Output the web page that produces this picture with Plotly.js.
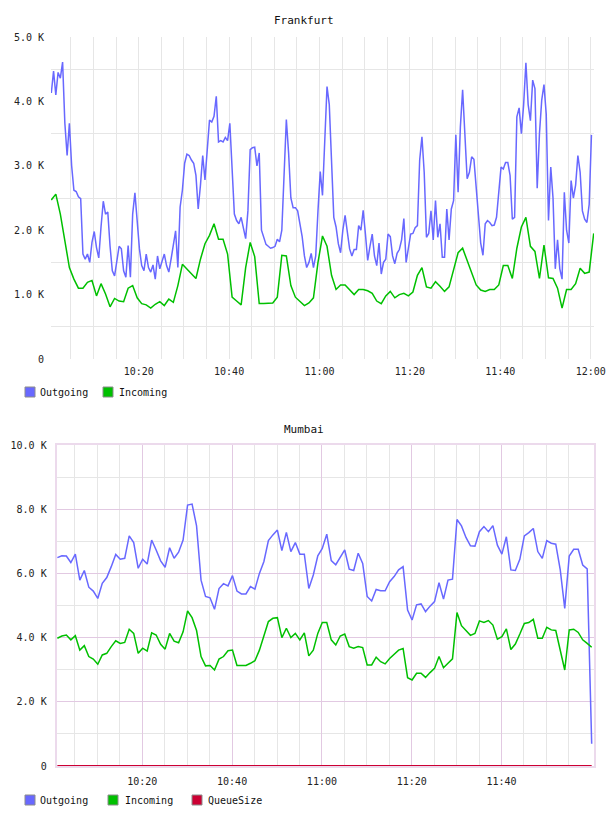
<!DOCTYPE html>
<html>
<head>
<meta charset="utf-8">
<script src="https://cdn.plot.ly/plotly-3.0.1.min.js"></script>
<style>
  html, body { margin: 0; padding: 0; background: #ffffff; }
  #chart { width: 608px; height: 816px; }
</style>
</head>
<body>
<div id="chart"></div>
<script>
// ---- Frankfurt: traffic sampled every 30 s (outgoing) and every 60 s (incoming)
const frankfurtOutgoing = [
  4130, 4470, 4100, 4450, 4360, 4610, 3660, 3160, 3660, 3000,
  2620, 2600, 2520, 2490, 1630, 1550, 1630, 1500, 1810, 1980,
  1730, 1570, 2050, 2450, 2250, 2280, 1750, 1370, 1290, 1520,
  1750, 1710, 1370, 1270, 1760, 1270, 2250, 2580, 2070, 1710,
  1450, 1370, 1630, 1420, 1350, 1460, 1240, 1600, 1400, 1500,
  1630, 1450, 1350, 1550, 1790, 1990, 1420, 2360, 2620, 3040,
  3180, 3160, 3090, 3040, 2850, 2330, 2700, 3160, 2780, 3300,
  3710, 3680, 3770, 4080, 3370, 3390, 3370, 3440, 3390, 3660,
  2880, 2250, 2150, 2100, 2200, 2050, 1870, 2300, 3250, 3280,
  3290, 3000, 3200, 2000, 1900, 1780, 1750, 1720, 1730, 1750,
  1860, 1820, 2000, 2900, 3720, 3200, 2500, 2350, 2350, 2300,
  2080, 1900, 1600, 1420, 1500, 1640, 1420, 1600, 2300, 2910,
  2540, 3400, 4230, 3950, 3100, 2200, 2050, 1790, 1650, 2000,
  2230, 1950, 1710, 1600, 1700, 1700, 2070, 2000, 2310, 1940,
  1530, 1750, 1940, 1600, 1450, 1800, 1320, 1500, 1550, 1940,
  1900, 1600, 1480, 1640, 1700, 1850, 2180, 1500, 1750, 1940,
  1950, 2040, 2070, 3090, 3450, 2900, 1890, 1950, 2300, 1850,
  2460, 1890, 2100, 1580, 1580, 2330, 1850, 2330, 2460, 3480,
  2590, 3600, 4180, 3500, 2800, 2900, 3140, 3100, 2650, 2300,
  1800, 1610, 2100, 2150, 2120, 2070, 2080, 2200, 2550, 2980,
  2950, 3050, 3050, 2850, 2170, 2200, 3760, 3900, 3500, 3950,
  4600, 3950, 3700, 4330, 4200, 2650, 3500, 4020, 4260, 3800,
  2150, 2980, 2500, 1400, 1850, 1400, 1240, 2590, 2000, 1800,
  2770, 2500, 2700, 3160, 2900, 2300, 2170, 2120, 2400, 3480
];
const frankfurtIncoming = [
  2470, 2560, 2250, 1850, 1420, 1240, 1100, 1100, 1190, 1220,
   980, 1170, 1010,  810,  940,  900,  890, 1100, 1140,  950,
   860,  840,  790,  850,  890,  830,  930,  880, 1140, 1470,
  1400, 1330, 1250, 1550, 1790, 1920, 2100, 1860, 1860, 1630,
   960,  900,  840, 1420, 1810, 1590,  860,  860,  860,  870,
   960, 1610, 1600, 1140,  960,  900,  830,  870,  950, 1500,
  1910, 1750, 1300, 1080, 1150, 1150, 1080, 1000, 1080, 1080,
  1060, 1020,  900,  860,  980, 1050,  950, 1000, 1020,  980,
  1040, 1300, 1420, 1120, 1100, 1200, 1130, 1050, 1120, 1400,
  1650, 1720, 1520, 1330, 1150, 1070, 1050, 1080, 1080, 1150,
  1450, 1450, 1250, 1720, 2050, 2200, 1750, 1670, 1250, 1770,
  1260, 1250, 1100,  790, 1080, 1080, 1170, 1410, 1330, 1350,
  1950
];

// ---- Mumbai: one sample per minute
const mumbaiOutgoing = [
  6490, 6550, 6540, 6340, 6600, 5790, 6090, 5570, 5450, 5220,
  5690, 5870, 6210, 6590, 6440, 6470, 7170, 6960, 6160, 6440,
  6290, 7040, 6730, 6390, 6190, 6800, 6470, 6660, 7040, 8130,
  8160, 7480, 5790, 5280, 5240, 4880, 5530, 5680, 5610, 5930,
  5450, 5360, 5360, 5590, 5510, 6000, 6370, 7020, 7200, 7350,
  6710, 7280, 6680, 6960, 6600, 6600, 5530, 5950, 6550, 6780,
  7220, 6400, 6270, 6520, 6730, 6130, 6090, 6630, 6310, 5280,
  5140, 5500, 5460, 5460, 5740, 5900, 6110, 6210, 4860, 4550,
  5020, 5050, 4810, 4980, 5120, 5710, 5200, 5790, 5820, 7680,
  7480, 7120, 6860, 6850, 7300, 7460, 7300, 7490, 6880, 6600,
  7140, 6110, 6090, 6440, 7170, 7270, 7400, 6680, 6470, 7020,
  6940, 6910, 6110, 4910, 6540, 6750, 6750, 6260, 6140,  690
];
const mumbaiIncoming = [
  3980, 4050, 4080, 3930, 4060, 3610, 3750, 3410, 3330, 3170,
  3460, 3510, 3720, 3900, 3820, 3850, 4260, 4130, 3510, 3670,
  3580, 4150, 4080, 3790, 3640, 4130, 3890, 3840, 4180, 4830,
  4620, 4220, 3410, 3120, 3130, 2990, 3330, 3410, 3590, 3610,
  3130, 3130, 3130, 3200, 3280, 3610, 4030, 4500, 4600, 4620,
  4000, 4290, 4000, 4130, 3930, 4150, 3430, 3610, 4130, 4470,
  4470, 3930, 3770, 4050, 4110, 3720, 3670, 3720, 3690, 3150,
  3150, 3390, 3250, 3180, 3350, 3490, 3610, 3660, 2750, 2680,
  2890, 2890, 2760, 2910, 3040, 3410, 3060, 3200, 3340, 4780,
  4370, 4220, 4070, 4130, 4520, 4470, 4530, 4390, 3950, 4030,
  4270, 3630, 3800, 4110, 4440, 4470, 4570, 3980, 3980, 4320,
  4240, 4220, 3610, 2990, 4240, 4260, 4160, 3930, 3820, 3700
];
const mumbaiQueueSize = [
  0, 0, 0, 0, 0, 0, 0, 0, 0, 0,
  0, 0, 0, 0, 0, 0, 0, 10, 15, 0,
  0, 0, 0, 0, 0, 0, 0, 0, 0, 10,
  0, 0, 0, 0, 0, 0, 0, 0, 0, 0,
  0, 0, 0, 0, 0, 0, 0, 0, 0, 0,
  0, 0, 0, 0, 0, 0, 0, 0, 0, 10,
  0, 0, 0, 0, 0, 0, 0, 0, 0, 0,
  0, 0, 0, 0, 0, 0, 0, 0, 0, 0,
  0, 0, 0, 0, 0, 0, 0, 0, 0, 0,
  0, 0, 0, 0, 0, 0, 0, 0, 0, 0,
  0, 0, 0, 0, 0, 0, 0, 0, 0, 0,
  0, 0, 0, 0, 0, 0, 0, 0, 0, 0
];

// ---- axis labels
const timeTickLabels = ['10:20', '10:40', '11:00', '11:20', '11:40', '12:00'];
const frankfurtYTicks = [0, 1000, 2000, 3000, 4000, 5000];
const frankfurtYLabels = ['0', '1.0 K', '2.0 K', '3.0 K', '4.0 K', '5.0 K'];
const mumbaiYTicks = [0, 2000, 4000, 6000, 8000, 10000];
const mumbaiYLabels = ['0', '2.0 K', '4.0 K', '6.0 K', '8.0 K', '10.0 K'];

const seriesNames = ['Outgoing', 'Incoming', 'QueueSize'];
const seriesColors = ['#6868ff', '#00c000', '#cc0033'];

// ---- time helpers
const DAY = '2024-05-14';
function stamp(ms) {
  const d = new Date(ms);
  const p = n => String(n).padStart(2, '0');
  return DAY + ' ' + p(d.getUTCHours()) + ':' + p(d.getUTCMinutes()) + ':' + p(d.getUTCSeconds());
}
function hms(h, m, s) { return Date.UTC(2024, 4, 14, h, m, s || 0); }
function timeline(startMs, stepSec, n) {
  const out = [];
  for (let i = 0; i < n; i++) out.push(stamp(startMs + i * stepSec * 1000));
  return out;
}
function labelTimes(labels) {
  return labels.map(l => DAY + ' ' + l + ':00');
}
function fiveMinuteMarks(fromMs, toMs) {
  const out = [];
  for (let t = fromMs; t <= toMs; t += 300000) out.push(stamp(t));
  return out;
}

const fraOutTimes = timeline(hms(10, 0, 40), 30, frankfurtOutgoing.length);
const fraInTimes = timeline(hms(10, 0, 40), 60, frankfurtIncoming.length);
const mumTimes = timeline(hms(10, 1, 5), 60, mumbaiOutgoing.length);

const W = 608, H = 816;
const px = x => x / W;
const py = y => 1 - y / H;

const FONT = 'DejaVu Sans Mono, monospace';
const GRID_GREY = '#e6e6e6';
const GRID_PINK = '#e2c9e2';
const FRAME_PINK = '#ecdaec';

const traces = [
  { x: fraOutTimes, y: frankfurtOutgoing, xaxis: 'x', yaxis: 'y', type: 'scatter', mode: 'lines',
    name: seriesNames[0], line: { color: seriesColors[0], width: 1.5 }, showlegend: false },
  { x: fraInTimes, y: frankfurtIncoming, xaxis: 'x', yaxis: 'y', type: 'scatter', mode: 'lines',
    name: seriesNames[1], line: { color: seriesColors[1], width: 1.5 }, showlegend: false },
  { x: mumTimes, y: mumbaiQueueSize, xaxis: 'x2', yaxis: 'y2', type: 'scatter', mode: 'lines',
    name: seriesNames[2], line: { color: seriesColors[2], width: 2 }, showlegend: false },
  { x: mumTimes, y: mumbaiOutgoing, xaxis: 'x2', yaxis: 'y2', type: 'scatter', mode: 'lines',
    name: seriesNames[0], line: { color: seriesColors[0], width: 1.5 }, showlegend: false },
  { x: mumTimes, y: mumbaiIncoming, xaxis: 'x2', yaxis: 'y2', type: 'scatter', mode: 'lines',
    name: seriesNames[1], line: { color: seriesColors[1], width: 1.5 }, showlegend: false }
];

const tickFont = { family: FONT, size: 10, color: '#222' };

// legend rows drawn as swatches + labels
const shapes = [];
const annotations = [];
function legendRow(yCenter, items) {
  items.forEach(it => {
    shapes.push({ type: 'rect', xref: 'paper', yref: 'paper',
      x0: px(it.sx), x1: px(it.sx + 10), y0: py(yCenter + 5), y1: py(yCenter - 5),
      fillcolor: it.color, line: { color: '#8c8c8c', width: 1 } });
    annotations.push({ xref: 'paper', yref: 'paper', x: px(it.tx), y: py(yCenter),
      xanchor: 'left', yanchor: 'middle', showarrow: false, text: it.name,
      font: { family: FONT, size: 10, color: '#111' } });
  });
}
legendRow(392, [
  { sx: 25, tx: 38, color: seriesColors[0], name: seriesNames[0] },
  { sx: 103, tx: 117, color: seriesColors[1], name: seriesNames[1] }
]);
legendRow(800, [
  { sx: 25, tx: 38, color: seriesColors[0], name: seriesNames[0] },
  { sx: 108, tx: 123, color: seriesColors[1], name: seriesNames[1] },
  { sx: 192, tx: 206, color: seriesColors[2], name: seriesNames[2] }
]);
annotations.push({ xref: 'paper', yref: 'paper', x: 0.5, y: py(20), xanchor: 'center', yanchor: 'middle',
  showarrow: false, text: 'Frankfurt', font: { family: FONT, size: 11, color: '#111' } });
annotations.push({ xref: 'paper', yref: 'paper', x: 0.5, y: py(429), xanchor: 'center', yanchor: 'middle',
  showarrow: false, text: 'Mumbai', font: { family: FONT, size: 11, color: '#111' } });

const layout = {
  width: W, height: H,
  margin: { l: 0, r: 0, t: 0, b: 0, pad: 0 },
  paper_bgcolor: '#ffffff', plot_bgcolor: '#ffffff',
  showlegend: false,
  font: { family: FONT, size: 10, color: '#222' },
  xaxis: {
    domain: [px(51), px(594)], anchor: 'y', type: 'date',
    range: [stamp(hms(10, 0, 36)), stamp(hms(12, 0, 44))],
    tickmode: 'array', tickvals: labelTimes(timeTickLabels), ticktext: timeTickLabels,
    showgrid: true, gridcolor: GRID_GREY, gridwidth: 1,
    minor: { tickmode: 'array', tickvals: fiveMinuteMarks(hms(10, 5), hms(12, 0)),
             showgrid: true, gridcolor: GRID_GREY, gridwidth: 1, ticks: '' },
    zeroline: false, showline: false, ticks: '', ticklabelstandoff: 5,
    tickfont: tickFont, fixedrange: true
  },
  yaxis: {
    domain: [py(359), py(37)], anchor: 'x', range: [0, 5000],
    tickmode: 'array', tickvals: frankfurtYTicks, ticktext: frankfurtYLabels,
    showgrid: false,
    minor: { tickmode: 'array', tickvals: [500, 1500, 2500, 3500, 4500],
             showgrid: true, gridcolor: GRID_GREY, gridwidth: 1, ticks: '' },
    zeroline: false, showline: false, ticks: '', ticklabelstandoff: 6,
    tickfont: tickFont, fixedrange: true
  },
  xaxis2: {
    domain: [px(56.7), px(594)], anchor: 'y2', type: 'date',
    range: [stamp(hms(10, 0, 56)), stamp(hms(12, 0, 36))],
    tickmode: 'array', tickvals: labelTimes(timeTickLabels.slice(0, 5)), ticktext: timeTickLabels.slice(0, 5),
    showgrid: true, gridcolor: GRID_PINK, gridwidth: 1,
    minor: { tickmode: 'array', tickvals: fiveMinuteMarks(hms(10, 5), hms(11, 55)),
             showgrid: true, gridcolor: GRID_GREY, gridwidth: 1, ticks: '' },
    zeroline: false, showline: true, mirror: true, linecolor: FRAME_PINK, linewidth: 2,
    ticks: '', ticklabelstandoff: 5, tickfont: tickFont, fixedrange: true
  },
  yaxis2: {
    domain: [py(766), py(445)], anchor: 'x2', range: [0, 10000],
    tickmode: 'array', tickvals: mumbaiYTicks, ticktext: mumbaiYLabels,
    showgrid: true, gridcolor: GRID_PINK, gridwidth: 1,
    minor: { tickmode: 'array', tickvals: [1000, 3000, 5000, 7000, 9000],
             showgrid: true, gridcolor: GRID_GREY, gridwidth: 1, ticks: '' },
    zeroline: false, showline: true, mirror: true, linecolor: FRAME_PINK, linewidth: 2,
    ticks: '', ticklabelstandoff: 6, tickfont: tickFont, fixedrange: true
  },
  shapes: shapes,
  annotations: annotations
};

Plotly.newPlot('chart', traces, layout, { displayModeBar: false, staticPlot: true });
</script>
</body>
</html>
